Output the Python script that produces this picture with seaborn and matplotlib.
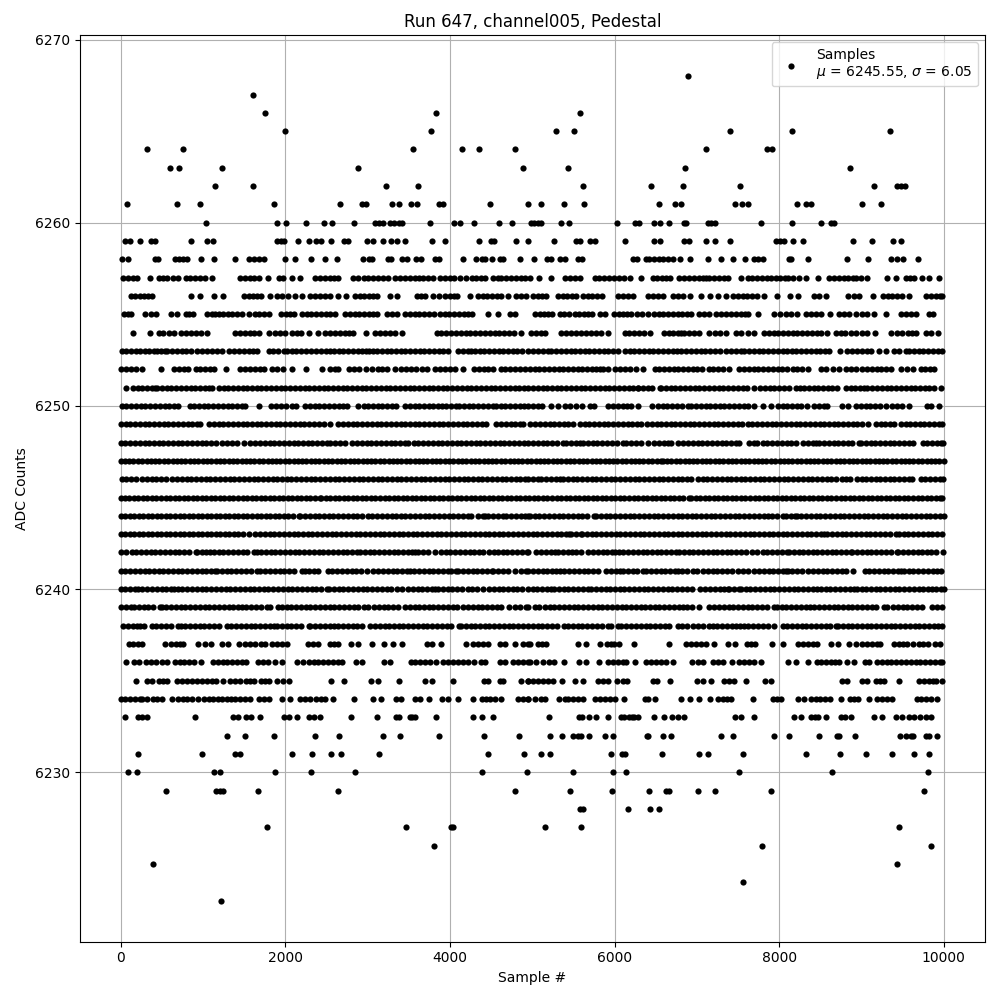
import matplotlib
matplotlib.use('Agg')
import matplotlib.pyplot as plt
import seaborn as sns
import pandas as pd

# sample numbers, one list per ADC level
s6268 = [6893]
s6267 = [1608]
s6266 = [1753, 3826, 5584]
s6265 = [1996, 3765, 5293, 5512, 7402, 8154, 9341]
s6264 = [323, 760, 3547, 4141, 4347, 4796, 7111, 7847, 7911]
s6263 = [602, 711, 1232, 2880, 4892, 5439, 6857, 8857]
s6262 = [1147, 1608, 3220, 3607, 5621, 6445, 6833, 7523, 9148, 9426, 9475, 9523]
s6261 = [80, 687, 965, 1862, 2662, 2929, 2977, 3292, 3377, 3522, 3595, 3862, 3910, 4492, 4953, 5112, 5390, 5633,
         6542, 6736, 6808, 7463, 7548, 7616, 8214, 8323, 8384, 9002, 9232]
s6260 = [1038, 1898, 2007, 2250, 2468, 2565, 2832, 3094, 3143, 3191, 3276, 3325, 3385, 3422, 3753, 4044, 4117, 4298,
         4601, 4759, 4990, 5019, 5071, 5112, 5354, 5451, 6033, 6251, 6299, 6481, 6554, 6663, 6845, 6869, 7136, 7172,
         7220, 7778, 8154, 8505, 8634, 8667]
s6259 = [52, 113, 238, 363, 416, 856, 1050, 1123, 1899, 1947, 1979, 2153, 2286, 2371, 2432, 2553, 2710, 2767, 2989,
         3062, 3183, 3280, 3353, 3450, 3777, 3935, 4347, 4504, 4541, 4807, 4954, 5269, 5536, 5584, 5705, 5766, 6126,
         6481, 6554, 6845, 6905, 7111, 7220, 7402, 7960, 8008, 8057, 8166, 8287, 8893, 9123, 9378, 9475]
s6258 = [20, 93, 416, 452, 662, 711, 759, 808, 977, 1135, 1389, 1559, 1620, 1680, 1741, 1996, 2117, 2311, 2484, 2626,
         2941, 3014, 3050, 3244, 3280, 3413, 3474, 3583, 3644, 3813, 3862, 4153, 4322, 4395, 4431, 4516, 4613, 4640,
         4856, 5027, 5184, 5233, 5342, 5402, 5560, 5608, 6227, 6275, 6384, 6421, 6481, 6542, 6590, 6651, 6711, 6796,
         6917, 7136, 7293, 7439, 7584, 7693, 7742, 7802, 8117, 8142, 8348, 8820, 9075, 9354, 9426, 9499, 9681]
s6257 = [28, 85, 150, 202, 360, 465, 515, 566, 630, 699, 788, 845, 905, 965, 1022, 1111, 1450, 1510, 1570, 1625, 1677,
         1790, 1919, 1967, 2081, 2182, 2363, 2420, 2480, 2540, 2595, 2646, 2828, 2889, 2953, 3010, 3065, 3125, 3185,
         3245, 3333, 3394, 3450, 3510, 3570, 3630, 3676, 3737, 3800, 3878, 3939, 3995, 4055, 4121, 4190, 4262, 4320,
         4375, 4424, 4525, 4580, 4626, 4686, 4745, 4805, 4860, 4915, 4970, 5079, 5225, 5402, 5460, 5520, 5576, 5758,
         5815, 5875, 5935, 5990, 6050, 6110, 6182, 6324, 6465, 6520, 6580, 6630, 6679, 6788, 6845, 6905, 6960, 7020,
         7070, 7111, 7152, 7210, 7270, 7325, 7374, 7536, 7617, 7675, 7735, 7790, 7850, 7899, 7960, 8015, 8070, 8101,
         8162, 8243, 8323, 8469, 8606, 8665, 8725, 8785, 8840, 8900, 8929, 8990, 9071, 9305, 9414, 9535, 9590, 9637,
         9737, 9818, 9947]
s6256 = [121, 175, 230, 285, 335, 384, 856, 961, 1135, 1244, 1503, 1555, 1605, 1656, 1701, 1814, 1899, 1959, 2032,
         2121, 2202, 2303, 2360, 2420, 2480, 2545, 2634, 2735, 2848, 2905, 2960, 3015, 3065, 3111, 3272, 3353, 3595,
         3645, 3696, 3797, 3870, 3939, 4000, 4050, 4080, 4238, 4343, 4400, 4455, 4510, 4570, 4625, 4706, 4808, 4865,
         4920, 5011, 5065, 5120, 5172, 5314, 5370, 5425, 5480, 5536, 5617, 5675, 5730, 5790, 5847, 6041, 6100, 6160,
         6223, 6404, 6465, 6525, 6586, 6707, 6770, 6830, 6917, 7051, 7164, 7253, 7354, 7435, 7495, 7555, 7610, 7670,
         7730, 7818, 7972, 8129, 8226, 8424, 8480, 8566, 8841, 8905, 8969, 9135, 9261, 9320, 9375, 9435, 9495, 9576,
         9786, 9845, 9905, 9955, 9980]
s6255 = [40, 85, 121, 291, 364, 432, 606, 687, 788, 835, 877, 1050, 1105, 1150, 1200, 1240, 1300, 1355, 1414, 1475,
         1555, 1628, 1685, 1745, 1798, 1951, 2005, 2055, 2100, 2200, 2260, 2315, 2375, 2430, 2490, 2545, 2598, 2727,
         2785, 2845, 2900, 2960, 3015, 3065, 3111, 3232, 3295, 3361, 3454, 3510, 3570, 3630, 3690, 3750, 3810, 3880,
         3939, 3988, 4050, 4110, 4165, 4215, 4262, 4464, 4589, 4727, 4787, 5031, 5090, 5145, 5195, 5241, 5334, 5385,
         5443, 5516, 5570, 5625, 5680, 5726, 5819, 5879, 5992, 6050, 6105, 6155, 6202, 6275, 6335, 6404, 6477, 6535,
         6590, 6650, 6710, 6765, 6820, 6880, 6930, 7031, 7090, 7152, 7233, 7290, 7350, 7410, 7470, 7530, 7580, 7617,
         7738, 7940, 8010, 8081, 8142, 8222, 8323, 8385, 8445, 8505, 8614, 8727, 8785, 8850, 8929, 9010, 9070, 9152,
         9293, 9475, 9535, 9595, 9657, 9818, 9871]
s6254 = [154, 360, 465, 520, 585, 646, 727, 790, 850, 910, 975, 1050, 1386, 1445, 1505, 1565, 1620, 1677, 1806, 1879,
         1935, 1992, 2081, 2140, 2195, 2291, 2396, 2485, 2545, 2600, 2660, 2720, 2775, 2828, 2982, 3091, 3150, 3210,
         3270, 3330, 3414, 3838, 3895, 3955, 4010, 4070, 4130, 4190, 4245, 4305, 4365, 4424, 4484, 4545, 4600, 4660,
         4720, 4780, 4868, 4990, 5050, 5105, 5152, 5354, 5415, 5475, 5535, 5590, 5657, 5718, 5775, 5840, 5920, 6122,
         6180, 6240, 6300, 6360, 6425, 6598, 6660, 6715, 6770, 6808, 6849, 6905, 6965, 7031, 7152, 7215, 7275, 7354,
         7475, 7540, 7616, 7697, 7818, 7880, 7940, 7980, 8041, 8101, 8162, 8220, 8280, 8340, 8400, 8460, 8505, 8586,
         8687, 8745, 8805, 8869, 8929, 9010, 9071, 9160, 9354, 9434, 9495, 9560, 9615, 9657, 9778, 9845, 9927]
s6253 = [12, 70, 125, 185, 240, 300, 350, 404, 444, 495, 537, 566, 625, 680, 740, 795, 860, 929, 990, 1050, 1110, 1170,
         1232, 1321, 1374, 1435, 1495, 1555, 1610, 1656, 1798, 1855, 1915, 1980, 2020, 2080, 2135, 2195, 2255, 2310,
         2370, 2430, 2490, 2545, 2586, 2650, 2705, 2765, 2820, 2880, 2935, 2982, 3018, 3065, 3111, 3171, 3230, 3285,
         3345, 3400, 3460, 3520, 3575, 3635, 3690, 3750, 3810, 3865, 3919, 3979, 4101, 4160, 4215, 4254, 4303, 4360,
         4415, 4475, 4530, 4590, 4645, 4705, 4760, 4820, 4880, 4949, 5010, 5070, 5130, 5192, 5233, 5290, 5350, 5405,
         5465, 5520, 5580, 5640, 5695, 5755, 5810, 5870, 5925, 5985, 6040, 6122, 6182, 6240, 6300, 6355, 6415, 6470,
         6530, 6590, 6645, 6705, 6760, 6808, 6869, 6930, 6985, 7045, 7100, 7160, 7220, 7275, 7354, 7414, 7475, 7536,
         7576, 7635, 7690, 7750, 7805, 7865, 7925, 7980, 8040, 8095, 8155, 8210, 8270, 8330, 8385, 8445, 8500, 8560,
         8606, 8740, 8828, 8889, 8950, 9005, 9065, 9120, 9212, 9293, 9394, 9455, 9535, 9576, 9635, 9695, 9750, 9810,
         9865, 9925, 9980]
s6252 = [0, 60, 120, 180, 263, 493, 646, 705, 765, 820, 909, 965, 1025, 1085, 1131, 1281, 1454, 1515, 1570, 1630, 1690,
         1745, 1838, 1899, 1971, 2085, 2250, 2444, 2545, 2600, 2638, 2775, 2835, 2895, 2982, 3058, 3120, 3175, 3235,
         3333, 3406, 3465, 3525, 3585, 3656, 3717, 3818, 3878, 3935, 3995, 4060, 4153, 4294, 4350, 4410, 4465, 4517,
         4618, 4674, 4735, 4795, 4850, 4909, 4970, 5030, 5085, 5145, 5200, 5260, 5320, 5375, 5435, 5490, 5550, 5610,
         5665, 5725, 5780, 5819, 5859, 5920, 6000, 6060, 6122, 6182, 6263, 6344, 6485, 6545, 6600, 6660, 6720, 6775,
         6835, 6890, 6950, 7005, 7065, 7152, 7200, 7260, 7320, 7394, 7515, 7575, 7630, 7690, 7745, 7805, 7865, 7920,
         7980, 8035, 8093, 8162, 8220, 8280, 8344, 8505, 8565, 8659, 8727, 8808, 8869, 8930, 9010, 9065, 9125, 9185,
         9240, 9300, 9354, 9475, 9556, 9624, 9717, 9775, 9830, 9879]
s6251 = [69, 150, 210, 265, 325, 380, 416, 444, 500, 560, 615, 675, 730, 790, 850, 905, 965, 1020, 1071, 1111, 1192,
         1250, 1305, 1365, 1420, 1480, 1540, 1595, 1655, 1710, 1770, 1825, 1885, 1945, 2000, 2060, 2115, 2175, 2235,
         2290, 2350, 2405, 2465, 2520, 2580, 2640, 2695, 2755, 2810, 2870, 2930, 2985, 3045, 3100, 3160, 3220, 3275,
         3335, 3390, 3450, 3510, 3565, 3625, 3680, 3740, 3800, 3855, 3915, 3970, 4030, 4090, 4145, 4205, 4260, 4320,
         4380, 4435, 4495, 4550, 4610, 4670, 4725, 4785, 4840, 4900, 4950, 5010, 5065, 5125, 5180, 5240, 5300, 5355,
         5415, 5470, 5530, 5590, 5645, 5705, 5760, 5820, 5880, 5935, 5995, 6050, 6110, 6170, 6225, 6285, 6290, 6340,
         6400, 6460, 6546, 6566, 6625, 6685, 6740, 6800, 6855, 6915, 6975, 7030, 7090, 7145, 7205, 7265, 7320, 7380,
         7435, 7495, 7555, 7610, 7697, 7766, 7825, 7885, 7940, 8000, 8055, 8115, 8202, 8255, 8303, 8360, 8420, 8475,
         8535, 8590, 8646, 8707, 8808, 8870, 8925, 8985, 9030, 9071, 9130, 9190, 9245, 9305, 9360, 9420, 9480, 9535,
         9595, 9650, 9710, 9770, 9825, 9885, 9960]
s6250 = [12, 70, 130, 185, 245, 300, 360, 420, 475, 535, 590, 646, 699, 836, 895, 950, 1010, 1065, 1125, 1185, 1240,
         1300, 1355, 1415, 1475, 1515, 1677, 1830, 1890, 1945, 2005, 2081, 2133, 2242, 2300, 2360, 2415, 2475, 2530,
         2590, 2650, 2705, 2747, 2889, 2950, 3005, 3065, 3120, 3180, 3240, 3293, 3341, 3454, 3510, 3570, 3630, 3685,
         3745, 3800, 3858, 3899, 3955, 4015, 4070, 4109, 4170, 4230, 4285, 4345, 4400, 4460, 4520, 4565, 4626, 4674,
         4735, 4790, 4850, 4905, 4949, 5005, 5065, 5120, 5225, 5314, 5402, 5460, 5536, 5604, 5697, 5750, 5920, 5980,
         6040, 6101, 6146, 6202, 6283, 6453, 6526, 6585, 6640, 6700, 6755, 6815, 6889, 6930, 6990, 7045, 7105, 7160,
         7220, 7280, 7335, 7395, 7450, 7510, 7570, 7616, 7697, 7798, 7900, 7980, 8040, 8100, 8155, 8215, 8263, 8336,
         8424, 8485, 8540, 8586, 8768, 8830, 8929, 8990, 9050, 9105, 9165, 9220, 9293, 9374, 9435, 9495, 9576, 9790,
         9850, 9940]
s6249 = [0, 60, 115, 175, 235, 290, 350, 405, 465, 525, 580, 640, 695, 755, 815, 870, 930, 969, 1071, 1130, 1190, 1245,
         1305, 1360, 1420, 1480, 1535, 1595, 1650, 1710, 1770, 1825, 1885, 1940, 2000, 2060, 2115, 2175, 2230, 2290,
         2350, 2405, 2465, 2545, 2646, 2705, 2760, 2820, 2875, 2935, 2995, 3050, 3110, 3165, 3225, 3285, 3340, 3400,
         3455, 3515, 3575, 3630, 3690, 3745, 3805, 3865, 3920, 3980, 4035, 4095, 4155, 4210, 4270, 4325, 4385, 4444,
         4565, 4625, 4680, 4740, 4795, 4855, 4889, 4970, 5030, 5091, 5152, 5210, 5270, 5325, 5385, 5440, 5500, 5576,
         5637, 5695, 5750, 5810, 5870, 5925, 5985, 6040, 6100, 6160, 6215, 6275, 6324, 6392, 6450, 6510, 6565, 6625,
         6680, 6740, 6800, 6855, 6915, 6970, 7030, 7090, 7145, 7205, 7260, 7320, 7380, 7435, 7495, 7550, 7616, 7675,
         7735, 7790, 7850, 7910, 7965, 8025, 8080, 8140, 8200, 8255, 8315, 8370, 8430, 8490, 8545, 8605, 8660, 8720,
         8780, 8835, 8895, 8950, 9010, 9079, 9172, 9232, 9290, 9350, 9394, 9475, 9535, 9590, 9650, 9705, 9765, 9825,
         9880, 9940, 9980]
s6248 = [0, 55, 115, 170, 230, 290, 345, 405, 460, 520, 580, 635, 695, 750, 810, 870, 925, 985, 1040, 1100, 1152, 1232,
         1290, 1350, 1410, 1495, 1576, 1635, 1695, 1750, 1810, 1865, 1925, 1985, 2040, 2100, 2155, 2215, 2275, 2330,
         2390, 2445, 2505, 2545, 2606, 2665, 2725, 2816, 2868, 2929, 2990, 3045, 3105, 3160, 3220, 3280, 3335, 3395,
         3454, 3494, 3567, 3616, 3675, 3735, 3790, 3850, 3905, 3965, 4025, 4080, 4140, 4195, 4255, 4315, 4370, 4430,
         4485, 4545, 4605, 4660, 4720, 4775, 4835, 4895, 4949, 5010, 5065, 5125, 5180, 5240, 5300, 5374, 5415, 5475,
         5530, 5576, 5617, 5675, 5735, 5790, 5850, 5905, 5965, 6025, 6101, 6142, 6200, 6255, 6315, 6404, 6477, 6535,
         6595, 6650, 6687, 6776, 6835, 6895, 6950, 7010, 7065, 7125, 7185, 7240, 7300, 7355, 7415, 7475, 7515, 7637,
         7690, 7730, 7798, 7855, 7915, 7970, 8030, 8090, 8145, 8205, 8283, 8352, 8410, 8445, 8485, 8545, 8600, 8660,
         8720, 8775, 8835, 8890, 8970, 8990, 9050, 9110, 9165, 9225, 9280, 9340, 9400, 9455, 9515, 9576, 9624, 9746,
         9798, 9855, 9915, 9970, 9992]
s6247 = [0, 50, 105, 155, 210, 260, 315, 365, 420, 470, 525, 575, 630, 680, 735, 785, 840, 890, 945, 995, 1050, 1100,
         1155, 1205, 1260, 1310, 1365, 1415, 1470, 1520, 1575, 1625, 1680, 1730, 1785, 1835, 1890, 1940, 1995, 2045,
         2100, 2150, 2205, 2255, 2310, 2360, 2415, 2465, 2520, 2570, 2625, 2675, 2730, 2780, 2835, 2885, 2940, 2990,
         3045, 3095, 3150, 3200, 3255, 3305, 3360, 3410, 3465, 3515, 3570, 3620, 3675, 3725, 3780, 3830, 3885, 3935,
         3990, 4040, 4095, 4145, 4200, 4250, 4305, 4355, 4410, 4460, 4515, 4565, 4620, 4670, 4725, 4775, 4830, 4880,
         4935, 4985, 5040, 5090, 5145, 5195, 5250, 5300, 5355, 5405, 5460, 5510, 5565, 5615, 5670, 5720, 5775, 5825,
         5880, 5930, 5985, 6035, 6090, 6140, 6195, 6245, 6300, 6350, 6405, 6455, 6510, 6566, 6586, 6640, 6690, 6745,
         6795, 6850, 6900, 6955, 7005, 7060, 7110, 7165, 7215, 7270, 7320, 7375, 7425, 7480, 7530, 7585, 7635, 7690,
         7740, 7795, 7845, 7900, 7950, 8005, 8055, 8110, 8160, 8215, 8265, 8320, 8370, 8425, 8475, 8530, 8580, 8635,
         8685, 8740, 8790, 8845, 8895, 8950, 9000, 9055, 9105, 9160, 9210, 9265, 9315, 9370, 9420, 9475, 9525, 9580,
         9630, 9685, 9735, 9790, 9840, 9895, 9945, 10000]
s6246 = [12, 70, 130, 190, 263, 320, 380, 435, 495, 550, 626, 687, 745, 800, 860, 915, 975, 1035, 1090, 1150, 1205,
         1265, 1325, 1380, 1440, 1495, 1555, 1615, 1670, 1730, 1785, 1845, 1905, 1960, 2020, 2075, 2135, 2195, 2250,
         2310, 2365, 2425, 2485, 2540, 2600, 2655, 2715, 2775, 2830, 2890, 2945, 3005, 3065, 3120, 3180, 3235, 3295,
         3355, 3410, 3470, 3525, 3585, 3645, 3700, 3760, 3815, 3875, 3935, 3990, 4050, 4105, 4165, 4225, 4280, 4340,
         4395, 4455, 4515, 4570, 4630, 4685, 4745, 4805, 4848, 4909, 4950, 5010, 5065, 5112, 5172, 5233, 5290, 5342,
         5374, 5430, 5490, 5545, 5605, 5665, 5720, 5780, 5835, 5895, 5955, 6010, 6070, 6125, 6185, 6245, 6300, 6360,
         6415, 6475, 6535, 6590, 6650, 6705, 6765, 6825, 6880, 6930, 7010, 7070, 7125, 7185, 7240, 7300, 7360, 7415,
         7475, 7530, 7590, 7650, 7705, 7765, 7820, 7880, 7940, 7995, 8055, 8110, 8170, 8230, 8285, 8345, 8400, 8460,
         8520, 8575, 8635, 8690, 8768, 8808, 8865, 8950, 9002, 9051, 9110, 9170, 9225, 9285, 9345, 9400, 9460, 9515,
         9575, 9616, 9717, 9775, 9835, 9890, 9950, 9992]
s6245 = [0, 50, 105, 160, 215, 270, 325, 380, 435, 490, 545, 600, 655, 710, 765, 820, 875, 930, 985, 1040, 1095, 1150,
         1205, 1260, 1315, 1370, 1425, 1480, 1535, 1590, 1645, 1700, 1755, 1810, 1865, 1920, 1975, 2030, 2085, 2140,
         2195, 2250, 2305, 2360, 2416, 2436, 2490, 2545, 2600, 2655, 2710, 2765, 2820, 2875, 2930, 2985, 3040, 3095,
         3150, 3205, 3260, 3315, 3370, 3425, 3480, 3535, 3590, 3645, 3700, 3755, 3810, 3865, 3920, 3975, 4030, 4085,
         4140, 4195, 4250, 4305, 4360, 4415, 4470, 4525, 4580, 4635, 4690, 4745, 4800, 4855, 4910, 4965, 5020, 5075,
         5130, 5185, 5240, 5295, 5350, 5405, 5460, 5515, 5570, 5625, 5680, 5735, 5790, 5845, 5900, 5955, 6010, 6065,
         6120, 6175, 6230, 6285, 6340, 6395, 6450, 6505, 6560, 6615, 6670, 6725, 6780, 6835, 6909, 6930, 6985, 7040,
         7095, 7150, 7205, 7260, 7315, 7370, 7425, 7480, 7535, 7590, 7645, 7700, 7755, 7810, 7865, 7920, 7975, 8030,
         8085, 8140, 8195, 8250, 8305, 8360, 8415, 8470, 8525, 8580, 8635, 8690, 8745, 8800, 8855, 8910, 8965, 9020,
         9075, 9130, 9185, 9240, 9295, 9350, 9405, 9460, 9515, 9570, 9625, 9680, 9735, 9790, 9845, 9900, 9955, 9980]
s6244 = [0, 55, 110, 165, 220, 275, 330, 385, 440, 495, 550, 605, 660, 715, 770, 825, 880, 935, 990, 1045, 1100, 1155,
         1210, 1265, 1320, 1375, 1430, 1485, 1540, 1595, 1650, 1705, 1760, 1815, 1870, 1925, 1980, 2035, 2090, 2161,
         2182, 2240, 2295, 2355, 2410, 2470, 2530, 2585, 2645, 2700, 2760, 2820, 2875, 2935, 3000, 3058, 3115, 3170,
         3230, 3290, 3345, 3405, 3460, 3520, 3580, 3635, 3695, 3750, 3810, 3870, 3925, 3985, 4040, 4100, 4160, 4214,
         4254, 4343, 4400, 4424, 4464, 4525, 4585, 4646, 4686, 4745, 4800, 4860, 4915, 4949, 4970, 5030, 5085, 5145,
         5205, 5260, 5320, 5375, 5435, 5495, 5550, 5610, 5665, 5750, 5778, 5835, 5895, 5950, 6010, 6065, 6125, 6185,
         6240, 6300, 6355, 6415, 6475, 6530, 6590, 6645, 6705, 6765, 6820, 6880, 6935, 6995, 7055, 7110, 7170, 7225,
         7285, 7345, 7400, 7460, 7515, 7575, 7635, 7690, 7750, 7818, 7859, 7915, 7975, 8041, 8081, 8140, 8190, 8214,
         8270, 8330, 8385, 8445, 8500, 8560, 8620, 8675, 8735, 8790, 8850, 8910, 8965, 9025, 9080, 9140, 9200, 9255,
         9315, 9370, 9430, 9490, 9545, 9605, 9660, 9720, 9780, 9835, 9895, 9950, 10000]
s6243 = [0, 55, 110, 165, 220, 275, 330, 385, 440, 495, 550, 605, 660, 715, 770, 825, 880, 935, 990, 1045, 1100, 1155,
         1210, 1265, 1320, 1375, 1430, 1485, 1564, 1636, 1695, 1750, 1810, 1865, 1925, 1985, 2040, 2100, 2155, 2215,
         2275, 2330, 2390, 2445, 2505, 2565, 2620, 2680, 2735, 2795, 2855, 2910, 2970, 3025, 3085, 3145, 3200, 3260,
         3315, 3375, 3435, 3490, 3550, 3605, 3665, 3725, 3780, 3840, 3895, 3955, 4015, 4070, 4130, 4185, 4245, 4305,
         4360, 4420, 4475, 4535, 4595, 4650, 4710, 4765, 4825, 4885, 4949, 5005, 5060, 5120, 5175, 5235, 5295, 5350,
         5410, 5443, 5467, 5530, 5588, 5608, 5665, 5725, 5780, 5840, 5900, 5955, 6015, 6070, 6130, 6190, 6245, 6305,
         6360, 6420, 6480, 6535, 6595, 6650, 6710, 6770, 6825, 6885, 6940, 7000, 7060, 7115, 7175, 7230, 7290, 7350,
         7405, 7465, 7520, 7580, 7640, 7695, 7755, 7810, 7870, 7930, 7985, 8045, 8100, 8160, 8220, 8275, 8335, 8390,
         8450, 8510, 8546, 8586, 8645, 8700, 8760, 8815, 8875, 8935, 8990, 9050, 9105, 9165, 9225, 9280, 9340, 9414,
         9455, 9515, 9570, 9630, 9690, 9745, 9805, 9860, 9920, 9980]
s6242 = [0, 60, 133, 190, 250, 305, 365, 420, 480, 540, 595, 655, 710, 770, 830, 909, 929, 985, 1040, 1091, 1131, 1190,
         1245, 1305, 1365, 1420, 1480, 1535, 1616, 1650, 1710, 1765, 1825, 1880, 1940, 2000, 2055, 2115, 2170, 2230,
         2290, 2345, 2405, 2460, 2520, 2580, 2635, 2695, 2750, 2810, 2868, 2909, 2965, 3025, 3080, 3140, 3200, 3255,
         3315, 3370, 3430, 3490, 3545, 3576, 3616, 3675, 3735, 3818, 3891, 3950, 4005, 4065, 4120, 4180, 4240, 4295,
         4355, 4404, 4473, 4530, 4586, 4650, 4698, 4755, 4815, 4870, 4930, 4950, 5051, 5112, 5170, 5225, 5273, 5314,
         5370, 5430, 5485, 5536, 5588, 5681, 5738, 5795, 5855, 5910, 5970, 6008, 6049, 6105, 6165, 6220, 6280, 6340,
         6395, 6455, 6510, 6570, 6630, 6685, 6745, 6788, 6841, 6900, 6955, 7015, 7075, 7130, 7190, 7245, 7305, 7365,
         7420, 7480, 7535, 7595, 7665, 7730, 7798, 7855, 7915, 7975, 8030, 8090, 8121, 8174, 8235, 8290, 8350, 8405,
         8465, 8525, 8580, 8640, 8695, 8755, 8815, 8869, 8889, 8950, 9005, 9065, 9120, 9180, 9240, 9295, 9355, 9434,
         9447, 9505, 9560, 9620, 9680, 9735, 9795, 9850, 9910, 9992]
s6241 = [0, 55, 115, 170, 230, 290, 345, 405, 460, 520, 580, 635, 695, 750, 810, 870, 925, 985, 1040, 1100, 1151, 1171,
         1230, 1290, 1345, 1405, 1460, 1520, 1580, 1656, 1696, 1755, 1815, 1870, 1930, 1985, 2045, 2105, 2202, 2234,
         2290, 2350, 2396, 2513, 2570, 2630, 2690, 2745, 2805, 2860, 2920, 2990, 3070, 3130, 3185, 3245, 3313, 3361,
         3420, 3475, 3515, 3568, 3625, 3685, 3740, 3800, 3860, 3915, 3975, 4012, 4070, 4101, 4160, 4215, 4275, 4330,
         4390, 4450, 4505, 4525, 4585, 4640, 4700, 4787, 4860, 4920, 4950, 5010, 5065, 5125, 5180, 5240, 5293, 5334,
         5390, 5450, 5510, 5565, 5625, 5680, 5740, 5798, 5899, 5960, 6015, 6061, 6101, 6160, 6220, 6275, 6344, 6384,
         6445, 6500, 6560, 6615, 6675, 6728, 6768, 6825, 6885, 6950, 7002, 7079, 7135, 7195, 7250, 7310, 7370, 7425,
         7503, 7556, 7615, 7697, 7758, 7815, 7875, 7930, 7990, 8050, 8081, 8101, 8160, 8220, 8275, 8344, 8412, 8470,
         8530, 8585, 8645, 8700, 8760, 8808, 8897, 9038, 9095, 9155, 9210, 9270, 9325, 9385, 9445, 9475, 9516, 9575,
         9630, 9690, 9745, 9805, 9865, 9920, 9960]
s6240 = [0, 55, 115, 170, 210, 265, 325, 380, 440, 500, 555, 615, 646, 694, 750, 810, 870, 925, 985, 1040, 1100, 1160,
         1215, 1275, 1330, 1390, 1450, 1505, 1565, 1620, 1680, 1740, 1795, 1855, 1910, 1970, 2030, 2085, 2145, 2200,
         2260, 2320, 2375, 2435, 2505, 2533, 2590, 2650, 2705, 2765, 2820, 2880, 2940, 2995, 3055, 3110, 3170, 3230,
         3285, 3361, 3414, 3494, 3550, 3610, 3665, 3725, 3780, 3818, 3858, 3915, 3975, 4030, 4090, 4141, 4214, 4270,
         4330, 4404, 4473, 4530, 4590, 4650, 4705, 4765, 4820, 4880, 4949, 5011, 5063, 5120, 5180, 5233, 5265, 5325,
         5380, 5440, 5495, 5555, 5615, 5677, 5718, 5778, 5831, 5890, 5945, 6005, 6065, 6120, 6180, 6235, 6295, 6355,
         6410, 6470, 6525, 6585, 6645, 6700, 6760, 6815, 6875, 6935, 7043, 7103, 7160, 7220, 7275, 7335, 7374, 7394,
         7455, 7515, 7536, 7595, 7650, 7710, 7770, 7825, 7885, 7940, 8000, 8060, 8115, 8175, 8230, 8290, 8350, 8405,
         8457, 8505, 8565, 8620, 8680, 8735, 8795, 8855, 8909, 8942, 9000, 9055, 9115, 9170, 9230, 9290, 9345, 9405,
         9460, 9520, 9580, 9635, 9695, 9750, 9810, 9859, 9899, 9960, 10000]
s6239 = [0, 60, 121, 162, 220, 280, 335, 395, 473, 497, 555, 610, 670, 730, 785, 845, 900, 960, 1020, 1075, 1135, 1190,
         1250, 1310, 1365, 1425, 1475, 1523, 1585, 1640, 1700, 1778, 1818, 1907, 1959, 2015, 2075, 2130, 2190, 2250,
         2305, 2365, 2420, 2480, 2540, 2595, 2655, 2710, 2770, 2830, 2885, 2961, 3010, 3079, 3135, 3195, 3250, 3313,
         3365, 3454, 3510, 3570, 3625, 3685, 3745, 3800, 3860, 3915, 3975, 4035, 4080, 4153, 4222, 4280, 4335, 4395,
         4450, 4510, 4570, 4625, 4715, 4787, 4845, 4929, 4950, 5031, 5079, 5160, 5213, 5270, 5330, 5385, 5445, 5505,
         5560, 5620, 5675, 5735, 5795, 5850, 5910, 5965, 6025, 6085, 6140, 6200, 6255, 6315, 6375, 6430, 6490, 6545,
         6605, 6667, 6716, 6780, 6829, 6877, 6935, 7031, 7152, 7210, 7270, 7325, 7385, 7440, 7500, 7560, 7615, 7675,
         7730, 7790, 7850, 7940, 7972, 8030, 8085, 8145, 8200, 8260, 8320, 8375, 8424, 8485, 8545, 8600, 8660, 8715,
         8775, 8835, 8890, 8950, 9005, 9065, 9125, 9180, 9273, 9305, 9382, 9440, 9500, 9555, 9615, 9670, 9729, 9859,
         9920, 9980]
s6238 = [28, 85, 145, 200, 230, 287, 376, 435, 495, 550, 610, 695, 727, 785, 840, 900, 960, 1015, 1075, 1130, 1190,
         1293, 1345, 1405, 1465, 1520, 1580, 1635, 1695, 1755, 1810, 1858, 1899, 1955, 2015, 2070, 2130, 2190, 2283,
         2303, 2360, 2420, 2480, 2545, 2586, 2645, 2700, 2760, 2820, 2875, 2929, 3030, 3090, 3145, 3205, 3260, 3320,
         3380, 3435, 3495, 3550, 3610, 3670, 3725, 3785, 3840, 3900, 3960, 4015, 4113, 4133, 4190, 4250, 4305, 4365,
         4425, 4480, 4540, 4595, 4655, 4715, 4770, 4830, 4885, 4949, 5005, 5065, 5120, 5180, 5240, 5295, 5382, 5435,
         5495, 5555, 5610, 5670, 5725, 5785, 5845, 5920, 5952, 6041, 6081, 6140, 6195, 6255, 6315, 6384, 6425, 6493,
         6550, 6610, 6665, 6768, 6817, 6880, 6958, 7019, 7080, 7152, 7192, 7250, 7310, 7365, 7425, 7480, 7528, 7568,
         7625, 7685, 7740, 7800, 7860, 7932, 8041, 8100, 8155, 8215, 8275, 8330, 8390, 8445, 8505, 8565, 8620, 8687,
         8715, 8775, 8830, 8890, 8950, 9005, 9065, 9120, 9180, 9240, 9295, 9355, 9410, 9470, 9530, 9585, 9645, 9700,
         9760, 9820, 9875, 9935, 9980]
s6237 = [101, 155, 210, 263, 533, 606, 667, 715, 760, 941, 1022, 1099, 1232, 1305, 1438, 1515, 1575, 1635, 1700, 1757,
         1838, 1900, 1960, 2020, 2275, 2335, 2396, 2537, 2590, 2646, 2796, 2881, 3050, 3196, 3313, 3414, 3717, 3777,
         3886, 4190, 4282, 4345, 4405, 4464, 4602, 4674, 4787, 4889, 4949, 4970, 5071, 5120, 5172, 5560, 5657, 5827,
         5912, 5955, 5992, 6057, 6239, 6663, 6869, 6930, 6990, 7050, 7110, 7204, 7374, 7463, 7608, 7660, 7705, 7911,
         8041, 8230, 8290, 8350, 8410, 8465, 8626, 8715, 8849, 8929, 9010, 9065, 9125, 9185, 9224, 9394, 9450, 9505,
         9556, 9624, 9697, 9750, 9806, 9887, 9952]
s6236 = [69, 162, 222, 311, 370, 430, 505, 558, 659, 720, 775, 835, 895, 970, 1119, 1180, 1240, 1295, 1355, 1410, 1470,
         1523, 1664, 1725, 1786, 1870, 1959, 2141, 2215, 2291, 2343, 2400, 2460, 2520, 2580, 2640, 2687, 2856, 2929,
         3196, 3272, 3523, 3580, 3640, 3695, 3755, 3826, 3919, 3980, 4040, 4101, 4160, 4222, 4294, 4375, 4431, 4606,
         4674, 4767, 4825, 4885, 4949, 4970, 5051, 5132, 5200, 5265, 5386, 5564, 5657, 5806, 5920, 5980, 6040, 6100,
         6142, 6251, 6384, 6445, 6505, 6560, 6620, 6707, 6942, 7010, 7071, 7192, 7253, 7313, 7422, 7515, 7575, 7630,
         7690, 7778, 8101, 8210, 8348, 8457, 8505, 8566, 8625, 8680, 8727, 8820, 8909, 9038, 9091, 9184, 9245, 9305,
         9360, 9420, 9480, 9535, 9596, 9657, 9715, 9775, 9835, 9890, 9950, 9980]
s6235 = [190, 323, 384, 465, 515, 566, 687, 750, 808, 869, 929, 990, 1050, 1110, 1160, 1244, 1325, 1385, 1454, 1523,
         1575, 1624, 1705, 1750, 1798, 1899, 1970, 2040, 2553, 2715, 3038, 3123, 3377, 3693, 3777, 4040, 4412, 4464,
         4606, 4646, 4868, 4949, 4950, 5010, 5070, 5130, 5190, 5253, 5366, 5524, 5621, 5798, 5860, 5920, 6033, 6101,
         6154, 6465, 6518, 6679, 7002, 7075, 7176, 7326, 7385, 7447, 7596, 7826, 7899, 8768, 8820, 9010, 9071, 9172,
         9225, 9273, 9455, 9697, 9755, 9815, 9870, 9899, 9972]
s6234 = [0, 55, 115, 170, 230, 263, 323, 392, 444, 505, 618, 699, 755, 808, 869, 937, 1010, 1070, 1125, 1184, 1232,
         1290, 1345, 1386, 1454, 1515, 1576, 1685, 1737, 1806, 1959, 2060, 2182, 2240, 2303, 2371, 2430, 2484, 2577,
         2832, 3062, 3163, 3341, 3406, 3572, 3640, 3741, 3899, 3971, 4093, 4274, 4395, 4440, 4484, 4545, 4618, 4828,
         4885, 4949, 4950, 5031, 5104, 5152, 5322, 5394, 5435, 5495, 5556, 5617, 5766, 5825, 5885, 5940, 6008, 6109,
         6364, 6404, 6493, 6808, 6917, 7027, 7160, 7261, 7320, 7370, 7414, 7677, 7927, 7975, 8020, 8230, 8303, 8384,
         8445, 8500, 8560, 8618, 8752, 8861, 8910, 8962, 9087, 9184, 9253, 9315, 9374, 9669, 9725, 9778, 9846, 9911]
s6233 = [48, 214, 263, 323, 897, 1366, 1422, 1523, 1583, 1693, 1984, 2048, 2141, 2287, 2343, 2420, 2796, 3111, 3345,
         3385, 3511, 3545, 3575, 3826, 4274, 4395, 4529, 5209, 5568, 5608, 5693, 5778, 5924, 6081, 6109, 6178, 6210,
         6235, 6283, 6481, 6602, 6699, 6772, 6845, 7463, 7536, 7693, 8178, 8263, 8384, 8430, 8477, 8566, 8748, 8805,
         8869, 9148, 9245, 9414, 9487, 9576, 9637, 9705, 9778, 9846]
s6232 = [1293, 1511, 1862, 2359, 2650, 3184, 3390, 3862, 4408, 4844, 5213, 5366, 5495, 5556, 5596, 5689, 5887, 5984,
         6396, 6412, 6590, 6687, 7293, 7439, 7936, 8117, 8481, 8707, 8731, 8917, 9463, 9535, 9596, 9628, 9778, 9818,
         9911]
s6231 = [214, 990, 1386, 1450, 2081, 2323, 2553, 2675, 3135, 4468, 4905, 5112, 5221, 5960, 6093, 6122, 6574, 7027,
         7132, 7560, 8323, 8736, 9051, 9366, 9632, 9814]
s6230 = [93, 202, 1135, 1208, 1875, 2311, 2844, 4395, 4941, 5499, 5984, 6142, 7511, 8639, 9802]
s6229 = [553, 1160, 1208, 1244, 1669, 2638, 4796, 5463, 5972, 6421, 6627, 6663, 7014, 7220, 7899, 9753]
s6228 = [5584, 5617, 6166, 6433, 6542]
s6227 = [1778, 3462, 4008, 4032, 5160, 5596, 9451]
s6226 = [3802, 7790, 9838]
s6225 = [396, 9426]
s6224 = [7560]
s6223 = [1220]

levels = {
    6268: s6268, 6267: s6267, 6266: s6266, 6265: s6265, 6264: s6264, 6263: s6263, 6262: s6262, 6261: s6261,
    6260: s6260, 6259: s6259, 6258: s6258, 6257: s6257, 6256: s6256, 6255: s6255, 6254: s6254, 6253: s6253,
    6252: s6252, 6251: s6251, 6250: s6250, 6249: s6249, 6248: s6248, 6247: s6247, 6246: s6246, 6245: s6245,
    6244: s6244, 6243: s6243, 6242: s6242, 6241: s6241, 6240: s6240, 6239: s6239, 6238: s6238, 6237: s6237,
    6236: s6236, 6235: s6235, 6234: s6234, 6233: s6233, 6232: s6232, 6231: s6231, 6230: s6230, 6229: s6229,
    6228: s6228, 6227: s6227, 6226: s6226, 6225: s6225, 6224: s6224, 6223: s6223,
}

rows = [(s, adc) for adc, samples in levels.items() for s in samples]
df = pd.DataFrame(rows, columns=['sample', 'adc'])

fig, ax = plt.subplots(figsize=(10, 10), dpi=100)
label = 'Samples\n$\\mu$ = 6245.55, $\\sigma$ = 6.05'
sns.scatterplot(data=df, x='sample', y='adc', color='black', s=20, linewidth=0, label=label, ax=ax, zorder=3)
ax.grid(True)
ax.set_title('Run 647, channel005, Pedestal')
ax.set_xlabel('Sample #')
ax.set_ylabel('ADC Counts')
ax.legend(loc='upper right')
ax.ticklabel_format(useOffset=False, style='plain', axis='y')
plt.tight_layout()
fig.subplots_adjust(top=0.965)
plt.savefig('out.png')
plt.close()
